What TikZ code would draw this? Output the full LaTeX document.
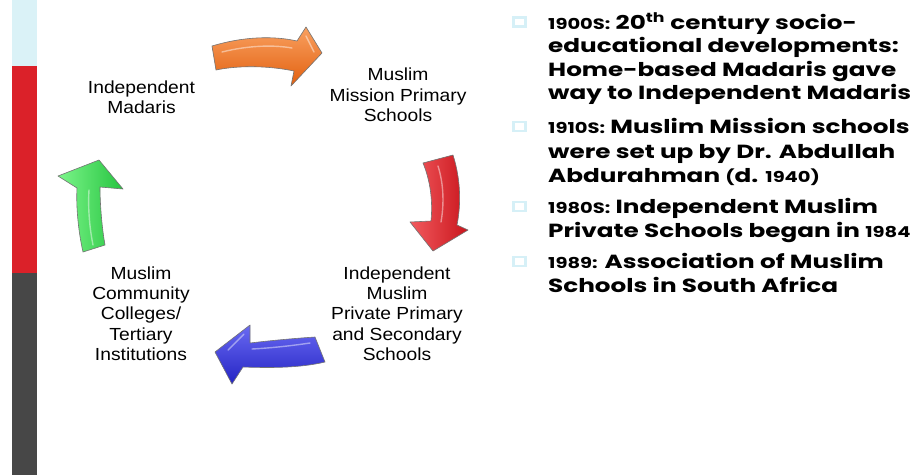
\documentclass[tikz,border=0pt]{standalone}
\usepackage{fontspec}
\setmainfont{Liberation Sans}
\newfontfamily\labfont[FakeStretch=1.1]{Liberation Sans}
\newfontfamily\bulfont[FakeStretch=1.3]{Poppins}
\definecolor{barblue}{HTML}{DAF2F7}
\definecolor{barred}{HTML}{DB2129}
\definecolor{bardark}{HTML}{474747}
\definecolor{orL}{HTML}{F9A060}
\definecolor{orD}{HTML}{E2600F}
\definecolor{rdL}{HTML}{F25A5E}
\definecolor{rdD}{HTML}{C9151C}
\definecolor{blL}{HTML}{6A6AF2}
\definecolor{blD}{HTML}{2424C4}
\definecolor{grL}{HTML}{7CF58A}
\definecolor{grD}{HTML}{26C440}
\definecolor{bulcol}{HTML}{D6F0F7}
\newcommand\sm[1]{{\fontsize{15}{15}\selectfont #1}}
\begin{document}
\begin{tikzpicture}[x=1pt,y=-1pt,
  lab/.style={font=\labfont\fontsize{17.5}{20.3}\selectfont, align=center, inner sep=0pt, anchor=north},
  bl/.style={font=\bulfont\bfseries\fontsize{19}{23}\selectfont, anchor=base west, inner sep=0pt},
  bsq/.style={draw=bulcol, line width=2.6pt, fill=white},
  arr/.style={draw=black!55, line width=0.6pt, line join=round},
  hl/.style={white, opacity=0.45, line width=1.4pt, line cap=round}]
\useasboundingbox (0,0) rectangle (916,475);
\fill[white] (0,0) rectangle (916,475);
% side bar
\fill[barblue] (12,0) rectangle (37,66);
\fill[barred] (12,66) rectangle (37,273);
\fill[bardark] (12,273) rectangle (37,475);

% labels
\node[lab] (madaris) at (141.5,80.4) {Independent\\Madaris};
\node[lab] (mission) at (398,68.1) {Muslim\\Mission Primary\\Schools};
\node[lab] (private) at (397,266.4) {Independent\\Muslim\\Private Primary\\and Secondary\\Schools};
\node[lab] (college) at (141,266.4) {Muslim\\Community\\Colleges/\\Tertiary\\Institutions};

% orange arrow (right)
\shade[arr, top color=orL, bottom color=orD]
  (212,46) .. controls (245,36) and (275,36) .. (297,41) -- (306,27) -- (322,53) -- (291,86) -- (294,71)
  .. controls (270,66) and (240,65) .. (216,70) -- cycle;
\draw[hl] (222,52) .. controls (250,45) and (275,45) .. (292,48);
\draw[hl] (306,36) -- (314,52);
% red arrow (down)
\shade[arr, left color=rdL, right color=rdD]
  (423,163) -- (453,155) .. controls (461,180) and (461,205) .. (457,225) -- (468,230) -- (433,251) -- (410,222) -- (431,221)
  .. controls (433,200) and (430,180) .. (423,163) -- cycle;
\draw[hl] (438,166) .. controls (444,185) and (444,205) .. (441,222);
% blue arrow (left)
\shade[arr, top color=blL, bottom color=blD]
  (315,337) -- (325,362) .. controls (300,368) and (270,368) .. (243,367) -- (232,384) -- (215,352) -- (250,325) -- (250,343)
  .. controls (275,340) and (300,338) .. (315,337) -- cycle;
\draw[hl] (310,343) .. controls (290,346) and (270,348) .. (252,349);
\draw[hl] (244,334) -- (228,350);
% green arrow (up)
\shade[arr, left color=grL, right color=grD]
  (83,252) .. controls (78,230) and (76,205) .. (77,188) -- (58,176) -- (99,160) -- (123,189) -- (100,187)
  .. controls (100,205) and (102,228) .. (105,245) -- cycle;
\draw[hl] (93,245) .. controls (89,225) and (88,205) .. (89,190);

% bullets
\draw[bsq] (513.5,17.5) rectangle (525.5,26.5);
\draw[bsq] (513.5,122) rectangle (525.5,131);
\draw[bsq] (513.5,202) rectangle (525.5,211);
\draw[bsq] (513.5,257) rectangle (525.5,266);

\node[bl] (l1) at (548,29) {\sm{1900S:} 20\textsuperscript{th} century socio-};
\node[bl] (l2) at (548,52.5) {educational developments:};
\node[bl] (l3) at (548,76) {Home-based Madaris gave};
\node[bl] (l4) at (548,99) {way to Independent Madaris};
\node[bl] (l5) at (548,133.5) {\sm{1910S:} Muslim Mission schools};
\node[bl] (l6) at (548,158) {were set up by Dr. Abdullah};
\node[bl] (l7) at (548,182) {Abdurahman \sm{(}d. \sm{1940)}};
\node[bl] (l8) at (548,213) {\sm{1980S:} Independent Muslim};
\node[bl] (l9) at (548,237) {Private Schools began in \sm{1984}};
\node[bl] (l10) at (548,268) {\sm{1989:} Association of Muslim};
\node[bl] (l11) at (548,292) {Schools in South Africa};
\end{tikzpicture}
\end{document}
